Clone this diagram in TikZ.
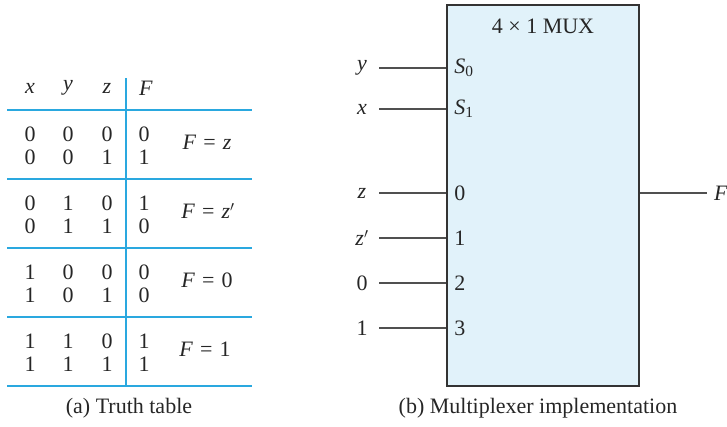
\documentclass[tikz,border=0pt]{standalone}
\usepackage{fontspec}
\setmainfont{Liberation Serif}
\usetikzlibrary{positioning, calc}
\definecolor{tline}{HTML}{2AA8DF}
\definecolor{muxfill}{HTML}{E1F2FA}
\definecolor{muxedge}{HTML}{333333}
\definecolor{wire}{HTML}{505050}
\tikzset{
  txt/.style={font=\fontsize{22}{26}\selectfont, inner sep=0pt, text=black!85},
  captext/.style={font=\fontsize{22}{26}\selectfont, inner sep=0pt, text=black!85},
  tablerule/.style={draw=tline, line width=1.8pt},
  muxbox/.style={draw=muxedge, fill=muxfill, line width=1.8pt,
                 minimum width=192pt, minimum height=381pt, inner sep=0pt},
  wireline/.style={draw=wire, line width=1.3pt},
}
\newcommand{\vr}[1]{\textit{#1}}
\newcommand{\eqs}{\hspace{0.32em}=\hspace{0.32em}}
\begin{document}
\begin{tikzpicture}[x=1pt, y=-1pt]
  \useasboundingbox (0,0) rectangle (727,426);

  % (a) truth table
  \node[txt] (hx) at (30,88) {\vr{x}};
  \node[txt] (hy) at (68,88) {\vr{y}};
  \node[txt] (hz) at (107,88) {\vr{z}};
  \node[txt] (hf) at (146,88) {\vr{F}};
  \draw[tablerule] (126,78) -- (126,386);
  \foreach \g in {0,...,4}
    \draw[tablerule] (7,110+69*\g) -- (252,110+69*\g);
  \foreach \a/\b/\c/\f [count=\i from 0] in
      {0/0/0/0,0/0/1/1,0/1/0/1,0/1/1/0,1/0/0/0,1/0/1/0,1/1/0/1,1/1/1/1} {
    \pgfmathsetmacro\ry{134+69*int(\i/2)+23*mod(\i,2)}
    \node[txt] (r\i a) at (30,\ry) {\a};
    \node[txt] (r\i b) at (68,\ry) {\b};
    \node[txt] (r\i c) at (107,\ry) {\c};
    \node[txt] (r\i f) at (144,\ry) {\f};
  }
  \node[txt] (fz)  at (207,142) {\vr{F}\eqs\vr{z}};
  \node[txt] (fzn) at (208,211) {\vr{F}\eqs\vr{z}$'$};
  \node[txt] (f0)  at (207,280) {\vr{F}\eqs 0};
  \node[txt] (f1)  at (205,349) {\vr{F}\eqs 1};
  \node[captext] (capa) at (129,408) {(a) Truth table};

  % (b) multiplexer
  \node[muxbox] (mux) at (543,195.5) {};
  \node[txt] (title) at (543,26) {4 × 1 MUX};
  \foreach \lbl/\pin/\py [count=\i] in
      {\vr{y}/\vr{S}\textsubscript{0}/68, \vr{x}/\vr{S}\textsubscript{1}/109,
       \vr{z}/0/193, \vr{z}$'$/1/238, 0/2/283, 1/3/328} {
    \node[txt] (in\i) at (362,\py) {\lbl};
    \coordinate (w\i) at (379,\py);
    \node[txt, anchor=west] (pin\i) at ($(mux.west |- w\i)+(8,0)$) {\pin};
    \draw[wireline] (w\i) -- (mux.west |- w\i);
  }
  \coordinate (wout) at (707,193);
  \node[txt, anchor=west] (fout) at (714,193) {\vr{F}};
  \draw[wireline] (mux.east |- wout) -- (wout);
  \node[captext] (capb) at (538,408) {(b) Multiplexer implementation};
\end{tikzpicture}
\end{document}
